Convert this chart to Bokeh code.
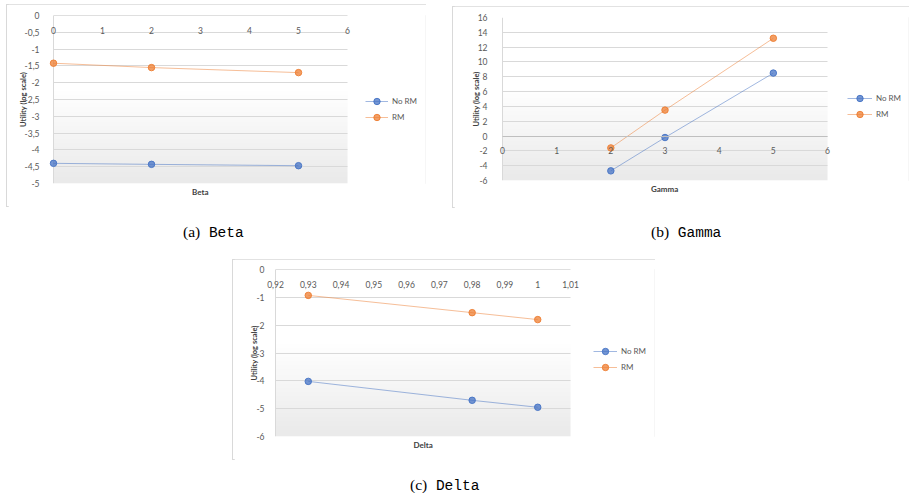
import numpy as np
from bokeh.plotting import figure
from bokeh.models import (Range1d, FixedTicker, CustomJSTickFormatter, Title,
                          Legend, LegendItem, Div, Spacer)
from bokeh.layouts import column, row
from bokeh.embed import file_html
from bokeh.resources import INLINE

# ---------------- data ----------------
series_names = ["No RM", "RM"]

beta_x = [0, 2, 5]
beta_no_rm = [-4.40, -4.43, -4.47]
beta_rm = [-1.42, -1.55, -1.70]
beta_xticks = [0, 1, 2, 3, 4, 5, 6]
beta_yticks = [0, -0.5, -1, -1.5, -2, -2.5, -3, -3.5, -4, -4.5, -5]

gamma_x = [2, 3, 5]
gamma_no_rm = [-4.7, -0.2, 8.5]
gamma_rm = [-1.6, 3.5, 13.2]
gamma_xticks = [0, 1, 2, 3, 4, 5, 6]
gamma_yticks = [16, 14, 12, 10, 8, 6, 4, 2, 0, -2, -4, -6]

delta_x = [0.93, 0.98, 1.00]
delta_no_rm = [-4.02, -4.70, -4.95]
delta_rm = [-0.93, -1.55, -1.80]
delta_xticks = [0.92, 0.93, 0.94, 0.95, 0.96, 0.97, 0.98, 0.99, 1.0, 1.01]
delta_yticks = [0, -1, -2, -3, -4, -5, -6]

y_title = "Utility (log scale)"
captions = [("(a)", "Beta"), ("(b)", "Gamma"), ("(c)", "Delta")]

# ---------------- style ----------------
BLUE = "#4472C4"
ORANGE = "#ED7D31"
FONT = "Lato"
TICK_COLOR = "#595959"
TITLE_COLOR = "#404040"
GRID = "#d9d9d9"

comma_fmt = CustomJSTickFormatter(code="return String(tick).replace('.', ',');")


def gradient_image():
    n = 80
    t = np.linspace(0.0, 1.0, n)  # 0 = bottom, 1 = top
    g = np.where(t > 0.55, 255.0, 234.0 + (255.0 - 234.0) * t / 0.55)
    img = np.zeros((n, 1), dtype=np.uint32)
    view = img.view(dtype=np.uint8).reshape((n, 1, 4))
    view[:, 0, 0] = g.astype(np.uint8)
    view[:, 0, 1] = g.astype(np.uint8)
    view[:, 0, 2] = g.astype(np.uint8)
    view[:, 0, 3] = 255
    return img


def make_panel(xs, s1, s2, xticks, yticks, xlabel, W, H,
               fl, ft, fw, fh, k, left_pad, label_gap, leg_x, leg_y, glyph_w,
               title_w):
    """W,H: chart box; fl,ft,fw,fh: plot area inside it; k: inner left inset."""
    x0, x1 = xticks[0], xticks[-1]
    y0, y1 = min(yticks), max(yticks)
    dpp = (x1 - x0) / fw
    right_pad = W - 1 - fl - fw
    xr = Range1d(x0 - left_pad * dpp, x1 + right_pad * dpp)
    p = figure(width=W - k, height=H, output_backend="svg",
               toolbar_location=None,
               x_range=xr, y_range=Range1d(y0, y1),
               min_border_left=fl - k - left_pad, min_border_top=ft,
               min_border_right=1,
               min_border_bottom=H - ft - fh)
    p.outline_line_color = None
    p.background_fill_color = "white"
    p.border_fill_color = "white"

    p.image_rgba(image=[gradient_image()], x=x0, y=y0, dw=x1 - x0, dh=y1 - y0,
                 level="image")

    # grid: horizontal lines over the plot area + vertical line at its left edge
    p.xgrid.ticker = FixedTicker(ticks=[x0])
    p.xgrid.cross_bounds = (y0, y1)
    p.xgrid.grid_line_color = GRID
    p.ygrid.ticker = FixedTicker(ticks=yticks)
    p.ygrid.cross_bounds = (x0, x1)
    p.ygrid.grid_line_color = GRID
    p.ygrid.grid_line_width = 1

    # x axis crossing at y=0
    xa = p.xaxis[0]
    xa.ticker = FixedTicker(ticks=xticks)
    xa.formatter = comma_fmt
    xa.fixed_location = 0
    xa.bounds = (x0, x1)
    xa.axis_line_color = "#bfbfbf"
    xa.major_tick_line_color = None
    xa.minor_tick_line_color = None
    xa.major_label_standoff = 5
    xa.major_label_text_font = FONT
    xa.major_label_text_font_size = "8.5px"
    xa.major_label_text_color = TICK_COLOR

    # x title, centred under the plot area
    p.add_layout(Title(text=xlabel, align="left", vertical_align="top",
                       offset=left_pad + fw / 2 - title_w / 2, standoff=6,
                       text_font=FONT, text_font_size="8px", text_font_style="bold",
                       text_color=TITLE_COLOR), "below")

    # y axis
    ya = p.yaxis[0]
    ya.ticker = FixedTicker(ticks=yticks)
    ya.formatter = comma_fmt
    ya.axis_line_color = None
    ya.major_tick_line_color = None
    ya.minor_tick_line_color = None
    ya.major_label_standoff = label_gap - left_pad
    ya.major_label_text_font = FONT
    ya.major_label_text_font_size = "8.5px"
    ya.major_label_text_color = TICK_COLOR
    ya.axis_label = y_title
    ya.axis_label_standoff = -6
    ya.axis_label_text_font = FONT
    ya.axis_label_text_font_size = "7.5px"
    ya.axis_label_text_font_style = "bold"
    ya.axis_label_text_color = TITLE_COLOR

    items = []
    for name, ys, col in ((series_names[0], s1, BLUE), (series_names[1], s2, ORANGE)):
        lr = p.line(xs, ys, line_color=col, line_alpha=0.5, line_width=1)
        sr = p.scatter(xs, ys, size=6.5, fill_color=col, fill_alpha=0.75,
                       line_color=col, line_alpha=0.9, line_width=1)
        items.append(LegendItem(label=name, renderers=[lr, sr]))

    leg = Legend(items=items, location=(left_pad + fw + leg_x, leg_y))
    leg.border_line_color = None
    leg.background_fill_alpha = 0
    leg.margin = 0
    leg.padding = 0
    leg.spacing = 0
    leg.label_height = 16
    leg.glyph_height = 16
    leg.glyph_width = glyph_w
    leg.label_standoff = 4
    leg.label_text_font = FONT
    leg.label_text_font_size = "8px"
    leg.label_text_color = TICK_COLOR
    p.add_layout(leg)

    box = row(Spacer(width=k, height=H), p,
              styles={"outline": "1px solid #d9d9d9", "outline-offset": "-1px",
                      "background-color": "white"})
    return box


pa = make_panel(beta_x, beta_no_rm, beta_rm, beta_xticks, beta_yticks, "Beta",
                420, 203, 47, 11, 294, 168, 2, 6, 8, 18, 58, 23, 17)
pb = make_panel(gamma_x, gamma_no_rm, gamma_rm, gamma_xticks, gamma_yticks, "Gamma",
                457, 202, 50, 11, 325, 163, 2, 6, 9, 20, 58, 25, 28)
pc = make_panel(delta_x, delta_no_rm, delta_rm, delta_xticks, delta_yticks, "Delta",
                423, 201, 43, 10, 295, 167, 2, 10, 5, 23, 61, 24, 19)


def cap_html(label, word, left, top):
    return (f'<span style="position:absolute;left:{left}px;top:{top}px;white-space:nowrap;color:#000;">'
            f'<span style="font-family:\'Liberation Serif\';font-size:15.5px;">{label}</span>'
            f'<span style="font-family:\'Liberation Mono\';font-size:14.5px;"> {word}</span></span>')


cap_row1 = Div(text='<div style="position:relative;width:909px;height:51px;">'
               + cap_html(*captions[0], 183, 13) + cap_html(*captions[1], 651, 13)
               + '</div>', width=909, height=51, margin=0)
cap_row2 = Div(text='<div style="position:relative;width:909px;height:34px;">'
               + cap_html(*captions[2], 410, 14) + '</div>',
               width=909, height=34, margin=0)

layout = column(
    Spacer(width=909, height=4),
    row(Spacer(width=6, height=203), pa, Spacer(width=26, height=203),
        column(Spacer(width=457, height=2), pb)),
    cap_row1,
    row(Spacer(width=232, height=201), pc),
    cap_row2,
)

open("out.html", "w").write(file_html(layout, INLINE))
